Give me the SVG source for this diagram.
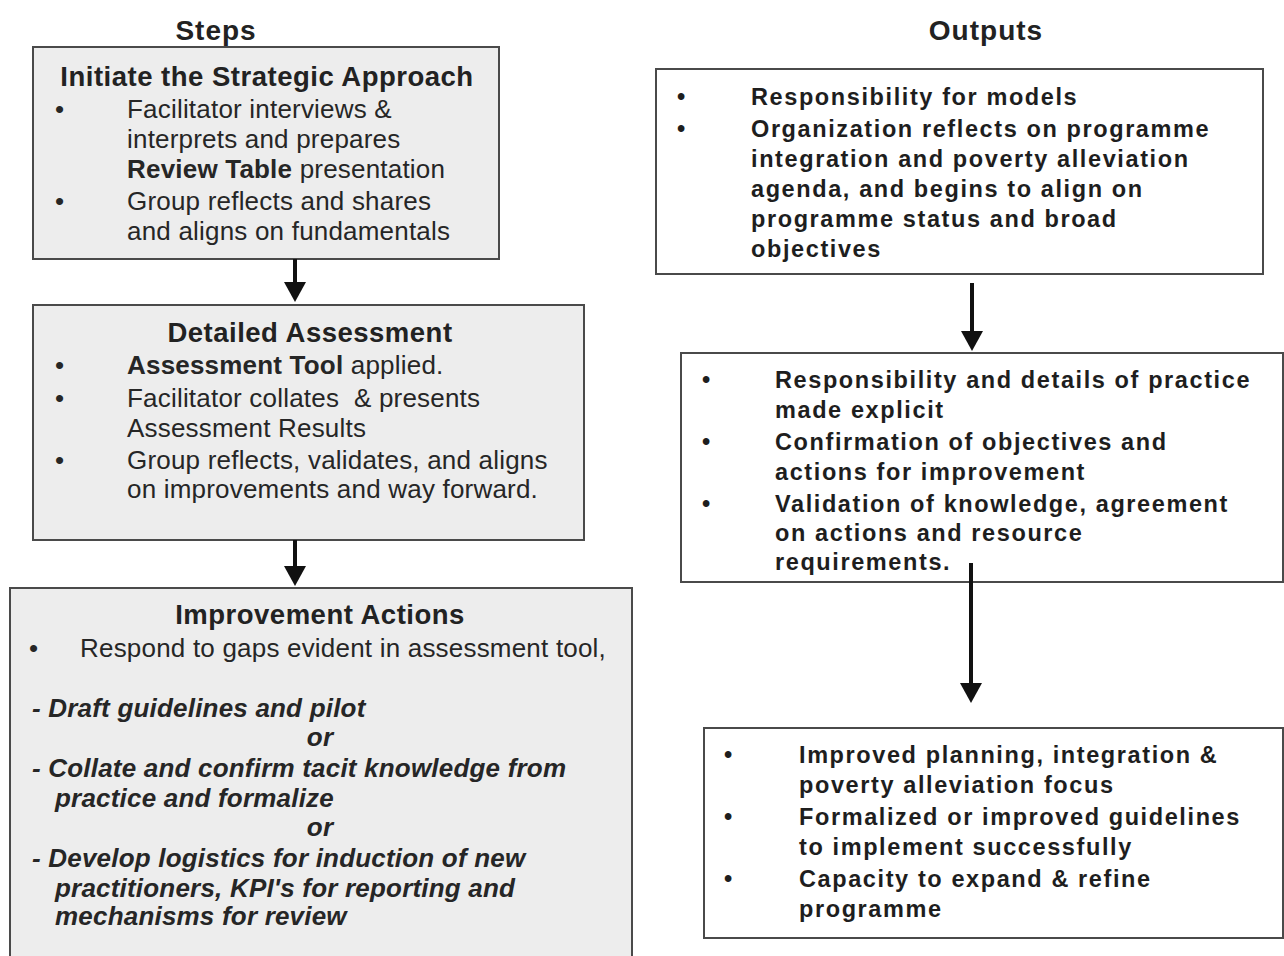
<svg xmlns="http://www.w3.org/2000/svg" width="1284" height="956" viewBox="0 0 1284 956">
<defs>
<style>
.bg{fill:#ffffff}
.gbox{fill:#ededed;stroke:#4a4a4a;stroke-width:2}
.wbox{fill:#ffffff;stroke:#4a4a4a;stroke-width:2}
.hd{font-family:"Liberation Sans",Arial,sans-serif;font-weight:bold;font-size:28px;letter-spacing:1px;fill:#222;text-anchor:middle}
.ti{font-family:"Liberation Sans",Arial,sans-serif;font-weight:bold;font-size:27.5px;letter-spacing:0.5px;fill:#222;text-anchor:middle}
.lt{font-family:"Liberation Sans",Arial,sans-serif;font-size:26px;letter-spacing:0.2px;fill:#262626}
.bi{font-family:"Liberation Sans",Arial,sans-serif;font-size:26px;font-weight:bold;font-style:italic;letter-spacing:0.2px;fill:#262626}
.rt{font-family:"Liberation Sans",Arial,sans-serif;font-size:23.5px;font-weight:bold;letter-spacing:1.6px;fill:#1e1e1e}
.b{font-weight:bold}
.conn{stroke:#111;stroke-width:4;fill:none}
</style>
<marker id="ah" markerUnits="userSpaceOnUse" markerWidth="24" markerHeight="22" viewBox="0 0 20 22" refX="0" refY="11" orient="auto">
<polygon points="0,0 20,11 0,22" fill="#111"/>
</marker>
</defs>
<rect class="bg" x="0" y="0" width="1284" height="956"/>

<text class="hd" x="216" y="40">Steps</text>
<text class="hd" x="986" y="40">Outputs</text>

<g id="initiate">
<rect class="gbox" x="33" y="47" width="466" height="212"/>
<text class="ti" x="267" y="86">Initiate the Strategic Approach</text>
<text class="lt" x="55" y="118">•</text>
<text class="lt" x="127" y="118">Facilitator interviews &amp;</text>
<text class="lt" x="127" y="148">interprets and prepares</text>
<text class="lt" x="127" y="178"><tspan class="b">Review Table</tspan> presentation</text>
<text class="lt" x="55" y="210">•</text>
<text class="lt" x="127" y="210">Group reflects and shares</text>
<text class="lt" x="127" y="240">and aligns on fundamentals</text>
</g>

<g id="detailed">
<rect class="gbox" x="33" y="305" width="551" height="235"/>
<text class="ti" x="310" y="342">Detailed Assessment</text>
<text class="lt" x="55" y="374">•</text>
<text class="lt" x="127" y="374"><tspan class="b">Assessment Tool</tspan> applied.</text>
<text class="lt" x="55" y="407">•</text>
<text class="lt" x="127" y="407" xml:space="preserve">Facilitator collates  &amp; presents</text>
<text class="lt" x="127" y="437">Assessment Results</text>
<text class="lt" x="55" y="469">•</text>
<text class="lt" x="127" y="469">Group reflects, validates, and aligns</text>
<text class="lt" x="127" y="498">on improvements and way forward.</text>
</g>

<g id="improvement">
<rect class="gbox" x="10" y="588" width="622" height="390"/>
<text class="ti" x="320" y="624">Improvement Actions</text>
<text class="lt" x="29" y="657">•</text>
<text class="lt" x="80" y="657">Respond to gaps evident in assessment tool,</text>
<text class="bi" x="32" y="717">- Draft guidelines and pilot</text>
<text class="bi" x="320" y="746" text-anchor="middle">or</text>
<text class="bi" x="32" y="777">- Collate and confirm tacit knowledge from</text>
<text class="bi" x="55" y="807">practice and formalize</text>
<text class="bi" x="320" y="836" text-anchor="middle">or</text>
<text class="bi" x="32" y="867">- Develop logistics for induction of new</text>
<text class="bi" x="55" y="897">practitioners, KPI's for reporting and</text>
<text class="bi" x="55" y="925">mechanisms for review</text>
</g>

<g id="output1">
<rect class="wbox" x="656" y="69" width="607" height="205"/>
<text class="rt" x="677" y="105">•</text>
<text class="rt" x="751" y="105">Responsibility for models</text>
<text class="rt" x="677" y="137">•</text>
<text class="rt" x="751" y="137">Organization reflects on programme</text>
<text class="rt" x="751" y="167">integration and poverty alleviation</text>
<text class="rt" x="751" y="197">agenda, and begins to align on</text>
<text class="rt" x="751" y="227">programme status and broad</text>
<text class="rt" x="751" y="257">objectives</text>
</g>

<g id="output2">
<rect class="wbox" x="681" y="353" width="602" height="229"/>
<text class="rt" x="702" y="388">•</text>
<text class="rt" x="775" y="388">Responsibility and details of practice</text>
<text class="rt" x="775" y="418">made explicit</text>
<text class="rt" x="702" y="450">•</text>
<text class="rt" x="775" y="450">Confirmation of objectives and</text>
<text class="rt" x="775" y="480">actions for improvement</text>
<text class="rt" x="702" y="512">•</text>
<text class="rt" x="775" y="512">Validation of knowledge, agreement</text>
<text class="rt" x="775" y="541">on actions and resource</text>
<text class="rt" x="775" y="570">requirements.</text>
</g>

<g id="output3">
<rect class="wbox" x="704" y="728" width="579" height="210"/>
<text class="rt" x="724" y="763">•</text>
<text class="rt" x="799" y="763">Improved planning, integration &amp;</text>
<text class="rt" x="799" y="793">poverty alleviation focus</text>
<text class="rt" x="724" y="825">•</text>
<text class="rt" x="799" y="825">Formalized or improved guidelines</text>
<text class="rt" x="799" y="855">to implement successfully</text>
<text class="rt" x="724" y="887">•</text>
<text class="rt" x="799" y="887">Capacity to expand &amp; refine</text>
<text class="rt" x="799" y="917">programme</text>
</g>

<g id="connectors">
<path class="conn" d="M295 259 V282" marker-end="url(#ah)"/>
<path class="conn" d="M295 540 V566" marker-end="url(#ah)"/>
<path class="conn" d="M972 283 V331" marker-end="url(#ah)"/>
<path class="conn" d="M971 563 V683" marker-end="url(#ah)"/>
</g>
</svg>
